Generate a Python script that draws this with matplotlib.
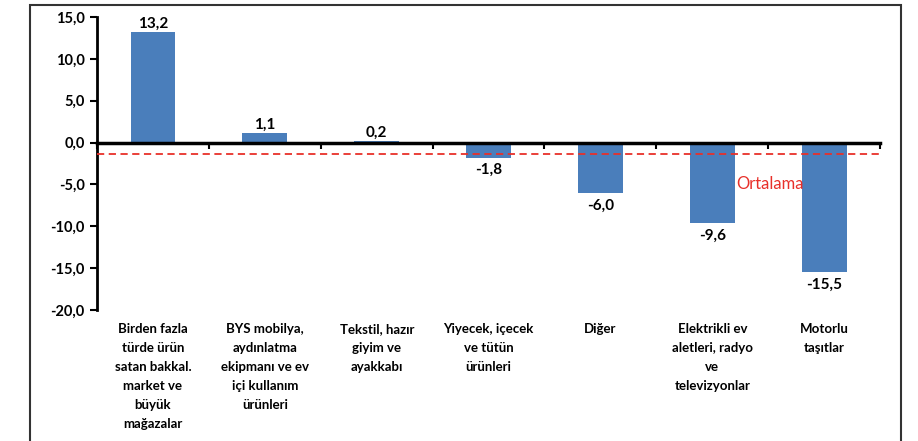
import matplotlib.pyplot as plt
from matplotlib.patches import Rectangle
import matplotlib.transforms as mtransforms

plt.rcParams['font.family'] = ['Lato', 'DejaVu Sans']
plt.rcParams['font.weight'] = 'bold'

categories = [
    'Birden fazla\ntürde ürün\nsatan bakkal.\nmarket ve\nbüyük\nmağazalar',
    'BYS mobilya,\naydınlatma\nekipmanı ve ev\niçi kullanım\nürünleri',
    'Tekstil, hazır\ngiyim ve\nayakkabı',
    'Yiyecek, içecek\nve tütün\nürünleri',
    'Diğer',
    'Elektrikli ev\naletleri, radyo\nve\ntelevizyonlar',
    'Motorlu\ntaşıtlar',
]
values = [13.2, 1.1, 0.2, -1.8, -6.0, -9.6, -15.5]
mean_value = -1.4
mean_label = 'Ortalama'
yticks = [-20, -15, -10, -5, 0, 5, 10, 15]

fig = plt.figure(figsize=(9.18, 4.41), dpi=100)
ax = fig.add_axes([0.1057, 0.2971, 0.853, 0.6644])

# outer frame
fig.patches.append(Rectangle((0.0327, -0.02), 0.9488, 1.0087, transform=fig.transFigure,
                             fill=False, edgecolor='#333333', linewidth=1.5))

x = list(range(len(values)))
bars = ax.bar(x, values, width=0.4, color='#4a7ebb', zorder=2)

for xi, v in zip(x, values):
    if v >= 0:
        ax.annotate(f'{v:.1f}'.replace('.', ','), (xi, v), xytext=(0, 1),
                    textcoords='offset points', ha='center', va='bottom', fontsize=11)
    else:
        ax.annotate(f'{v:.1f}'.replace('.', ','), (xi, v), xytext=(0, -4),
                    textcoords='offset points', ha='center', va='top', fontsize=11)

ax.axhline(mean_value, color='#e8302a', linestyle=(0, (4, 2.5)), linewidth=1.3, zorder=3)
ax.text(5.52, -5.0, mean_label, color='#e8302a', fontsize=12, fontweight='normal',
        ha='center', va='center', zorder=4)

ax.set_xlim(-0.5, len(values) - 0.5)
ax.set_ylim(-20, 15)
ax.set_yticks(yticks)
ax.set_yticklabels([f'{t:.1f}'.replace('.', ',') for t in yticks], fontsize=10.5)
ax.tick_params(axis='y', direction='out', length=5, width=1.5, pad=4)

ax.spines['top'].set_visible(False)
ax.spines['right'].set_visible(False)
ax.spines['left'].set_linewidth(2)
ax.spines['bottom'].set_position(('data', 0))
ax.spines['bottom'].set_linewidth(2.5)
ax.spines['bottom'].set_zorder(5)
ax.set_xticks([i + 0.5 for i in range(-1, len(values))])
ax.set_xticklabels([])
ax.tick_params(axis='x', direction='out', length=4, width=1.5)

trans = mtransforms.blended_transform_factory(ax.transData, ax.transAxes)
for xi, lab in zip(x, categories):
    ax.text(xi, -0.045, lab, transform=trans, ha='center', va='top',
            fontsize=9.5, linespacing=1.7)

fig.savefig('out.png', dpi=100)
